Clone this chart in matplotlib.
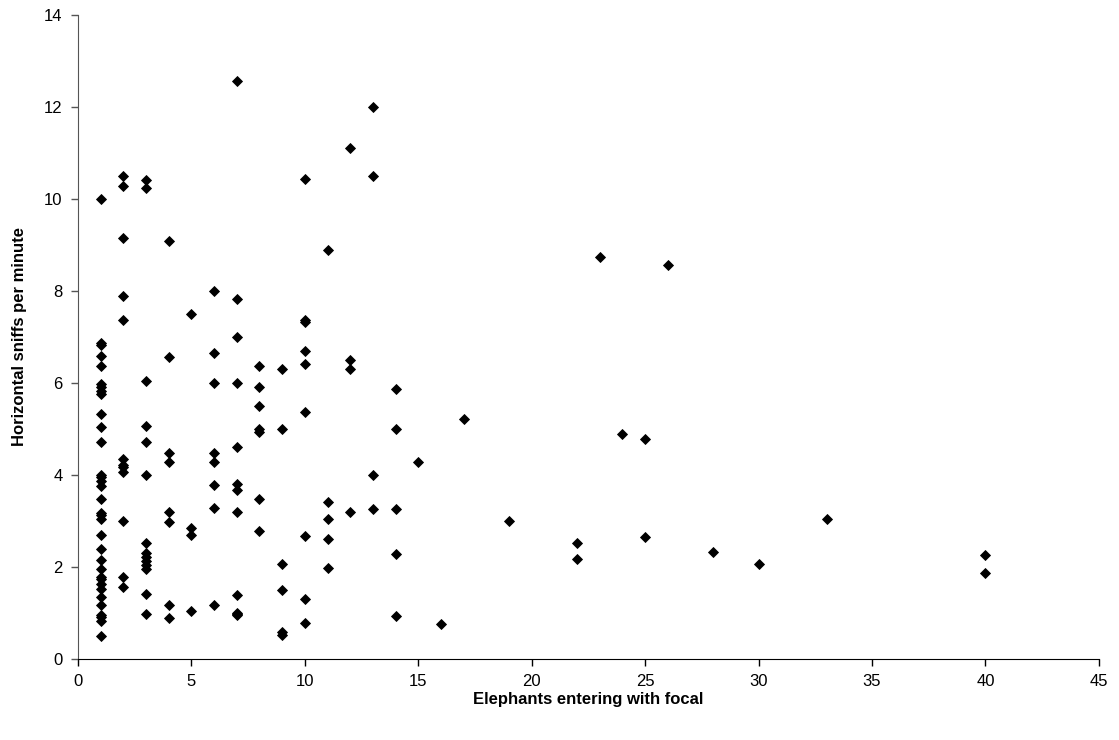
import matplotlib
matplotlib.use("Agg")
import matplotlib.pyplot as plt

plt.rcParams['font.family'] = ['Liberation Sans', 'DejaVu Sans']

# Elephants entering with the focal animal, and horizontal sniff rate
elephants = (
    [1] * 34
    + [2] * 12
    + [3] * 14
    + [4] * 8
    + [5] * 4
    + [6] * 8
    + [7] * 12
    + [8] * 7
    + [9] * 6
    + [10] * 9
    + [11] * 5
    + [12] * 4
    + [13] * 4
    + [14] * 5
    + [15, 16, 17, 19, 22, 22, 23, 24, 25, 25, 26, 28, 30, 33, 40, 40]
)

sniffs = (
    # 1
    [10.0, 6.86, 6.82, 6.59, 6.38, 5.97, 5.91, 5.83, 5.75, 5.33, 5.05, 4.71,
     4.01, 3.95, 3.87, 3.75, 3.47, 3.17, 3.12, 3.04, 2.70, 2.40, 2.15, 1.95,
     1.78, 1.73, 1.62, 1.52, 1.35, 1.17, 0.96, 0.91, 0.83, 0.50]
    # 2
    + [10.51, 10.29, 9.15, 7.90, 7.37, 4.34, 4.22, 4.17, 4.07, 2.99, 1.79, 1.56]
    # 3
    + [10.41, 10.24, 6.05, 5.07, 4.71, 3.99, 2.53, 2.31, 2.22, 2.14, 2.05,
       1.95, 1.41, 0.97]
    # 4
    + [9.09, 6.57, 4.48, 4.28, 3.20, 2.97, 1.17, 0.89]
    # 5
    + [7.51, 2.85, 2.69, 1.05]
    # 6
    + [8.01, 6.66, 5.99, 4.48, 4.28, 3.78, 3.29, 1.17]
    # 7
    + [12.57, 7.83, 6.99, 5.99, 4.61, 3.80, 3.67, 3.20, 1.38, 0.99, 0.95, 0.97]
    # 8
    + [6.38, 5.91, 5.50, 5.01, 4.93, 3.48, 2.78]
    # 9
    + [6.30, 4.99, 2.06, 1.50, 0.59, 0.52]
    # 10
    + [10.43, 7.38, 7.32, 6.70, 6.41, 5.38, 2.67, 1.30, 0.78]
    # 11
    + [8.89, 3.42, 3.04, 2.61, 1.98]
    # 12
    + [11.11, 6.49, 6.30, 3.20]
    # 13
    + [12.0, 10.51, 3.99, 3.26]
    # 14
    + [5.88, 4.99, 3.26, 2.28, 0.93]
    # 15 and above
    + [4.28, 0.75, 5.21, 2.99, 2.52, 2.18, 8.75, 4.90, 4.78, 2.66, 8.57,
       2.32, 2.07, 3.05, 2.25, 1.87]
)

x_ticks = list(range(0, 46, 5))
y_ticks = list(range(0, 15, 2))

fig = plt.figure(figsize=(11.19, 7.40), dpi=100)
ax = fig.add_axes([0.0697, 0.1095, 0.9123, 0.8702])

ax.plot(elephants, sniffs, linestyle='none', marker='D', markersize=4.6,
        markerfacecolor='black', markeredgecolor='black', markeredgewidth=0.6,
        clip_on=False)

ax.set_xlim(0, 45)
ax.set_ylim(0, 14)
ax.set_xticks(x_ticks)
ax.set_yticks(y_ticks)
ax.tick_params(axis='both', direction='out', length=5, width=1,
               labelsize=12, colors='black', pad=6)
ax.tick_params(axis='y', color='#555555')

for side in ('top', 'right'):
    ax.spines[side].set_visible(False)
ax.spines['left'].set_color('#555555')
ax.spines['bottom'].set_color('black')

ax.set_xlabel('Elephants entering with focal', fontsize=12, fontweight='bold',
              labelpad=2)
ax.set_ylabel('Horizontal sniffs per minute', fontsize=12, fontweight='bold',
              labelpad=12)

fig.savefig('out.png', dpi=100, facecolor='white')
